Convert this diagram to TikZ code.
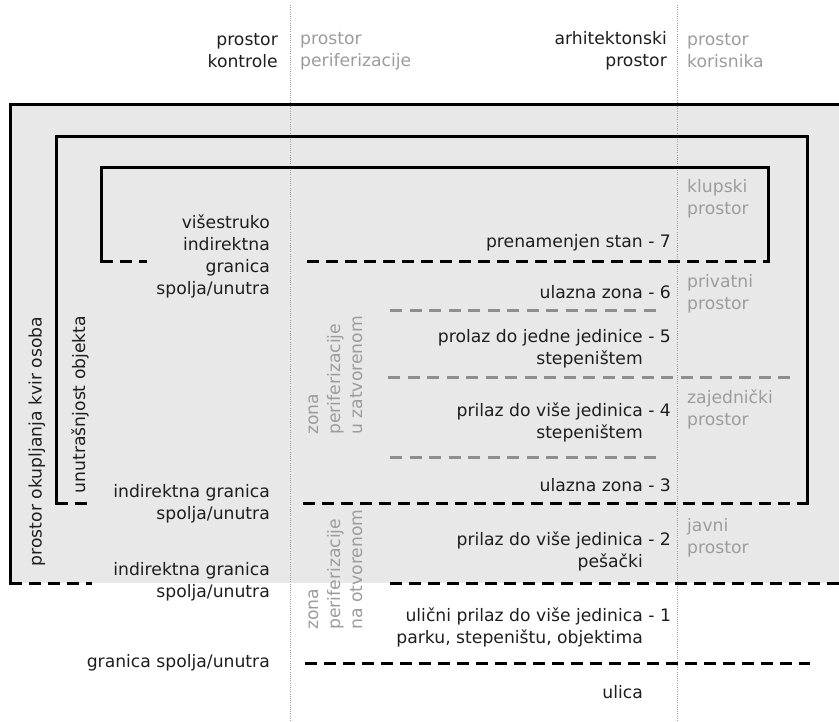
\documentclass[tikz,border=0pt]{standalone}
\usepackage{fontspec}
\setmainfont{DejaVu Sans}
\definecolor{txt}{HTML}{1E1E1E}
\definecolor{gtxt}{HTML}{9C9C9C}
\definecolor{fillg}{HTML}{E8E8E8}
\definecolor{gdash}{HTML}{8E8E8E}
\definecolor{gdot}{HTML}{A0A0A0}
\tikzset{
  base/.style={font=\fontsize{17.2}{22}\selectfont, inner sep=0pt},
  lbl/.style={base, text=txt, align=right, anchor=east},
  glbl/.style={base, text=gtxt, align=left, anchor=west},
  vlbl/.style={base, text=txt, rotate=90},
  gvlbl/.style={base, text=gtxt, rotate=90, align=left, anchor=west},
  frame/.style={line width=3pt, draw=black, line join=miter, line cap=rect},
  bdash/.style={line width=3pt, draw=black, dash pattern=on 12pt off 7pt},
  gdashed/.style={line width=3pt, draw=gdash, dash pattern=on 12pt off 7.5pt},
  divider/.style={line width=0.8pt, draw=gdot, dash pattern=on 1pt off 1.2pt}
}
\begin{document}
\begin{tikzpicture}[x=1pt,y=-1pt]
\useasboundingbox (0,0) rectangle (839,722);
% gray field
\fill[fillg] (10,105) rectangle (839,583);
% dividers
\draw[divider] (290,5) -- (290,722);
\draw[divider] (677,5) -- (677,722);
% outer frame
\draw[frame] (10,583) -- (10,105) -- (842,105);
\draw[bdash] (10,583) -- (92,583);
\draw[bdash] (390,583) -- (842,583);
% frame 2
\draw[frame] (56,503) -- (56,137) -- (807,137) -- (807,503);
\draw[bdash] (56,503) -- (88,503);
\draw[bdash] (303,503) -- (807,503);
% frame 3
\draw[frame] (101,262) -- (101,168) -- (768,168) -- (768,262);
\draw[bdash] (101,262) -- (147,262);
\draw[bdash] (307,262) -- (768,262);
% gray dashes
\draw[gdashed] (390,311) -- (662,311);
\draw[gdashed] (388,378) -- (790,378);
\draw[gdashed] (390,457) -- (662,457);
% street line
\draw[bdash] (305,663) -- (810,663);
% headers
\node[lbl] (h1) at (278,51) {prostor\\kontrole};
\node[glbl] (h2) at (300,51) {prostor\\periferizacije};
\node[lbl] (h3) at (667,51) {arhitektonski\\prostor};
\node[glbl] (h4) at (687,51) {prostor\\korisnika};
% left column
\node[lbl] (l1) at (270,256.5) {višestruko\\indirektna\\granica\\spolja/unutra};
\node[lbl] (l2) at (270,503.5) {indirektna granica\\spolja/unutra};
\node[lbl] (l3) at (270,581.5) {indirektna granica\\spolja/unutra};
\node[lbl] (l4) at (270,663) {granica spolja/unutra};
% center column
\node[lbl] (n7) at (643,243) {prenamenjen stan\rlap{ - 7}};
\node[lbl] (n6) at (643,292) {ulazna zona\rlap{ - 6}};
\node[lbl] (n5) at (643,348.5) {prolaz do jedne jedinice\rlap{ - 5}\\stepeništem};
\node[lbl] (n4) at (643,422.5) {prilaz do više jedinica\rlap{ - 4}\\stepeništem};
\node[lbl] (n3) at (643,485) {ulazna zona\rlap{ - 3}};
\node[lbl] (n2) at (643,551) {prilaz do više jedinica\rlap{ - 2}\\pešački};
\node[lbl] (n1) at (643,627.5) {ulični prilaz do više jedinica\rlap{ - 1}\\parku, stepeništu, objektima};
\node[lbl] (n0) at (643,692) {ulica};
% right gray column
\node[glbl] (r1) at (687,199) {klupski\\prostor};
\node[glbl] (r2) at (687,294) {privatni\\prostor};
\node[glbl] (r3) at (687,409) {zajednički\\prostor};
\node[glbl] (r4) at (687,537.5) {javni\\prostor};
% rotated labels
\node[vlbl] (v1) at (37,441.5) {prostor okupljanja kvir osoba};
\node[vlbl] (v2) at (80,404.5) {unutrašnjost objekta};
\node[gvlbl] (z1) at (335.5,435) {zona\\periferizacije\\u zatvorenom};
\node[gvlbl] (z2) at (335.5,630) {zona\\periferizacije\\na otvorenom};
\end{tikzpicture}
\end{document}
